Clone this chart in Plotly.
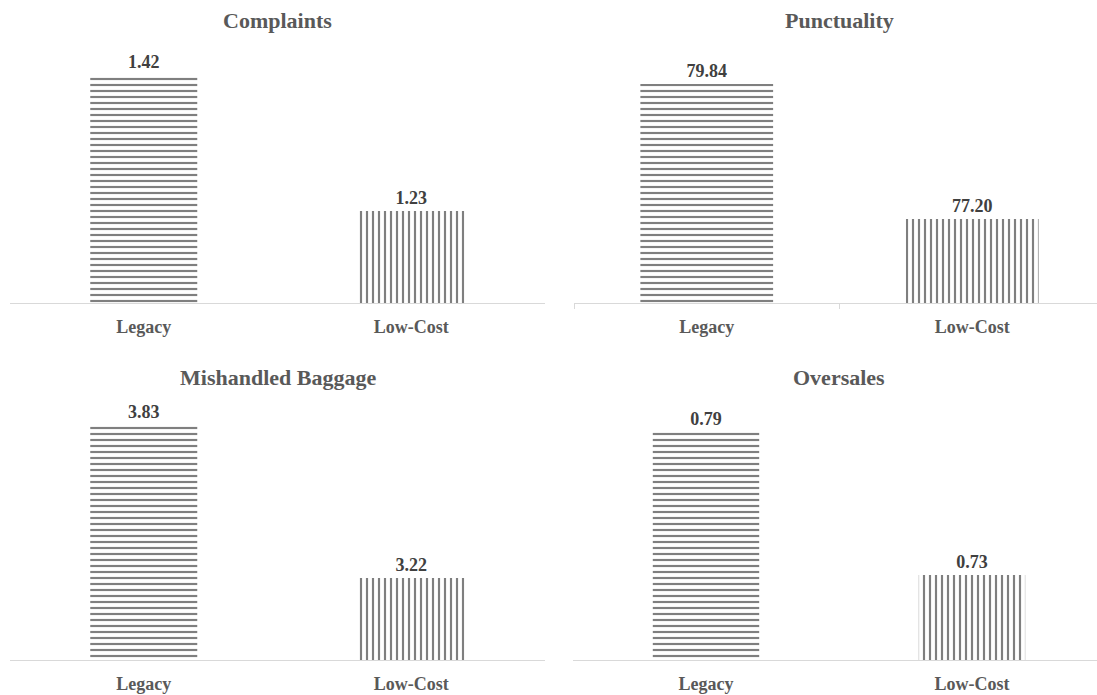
import plotly.graph_objects as go

# Airline service metrics, legacy vs low-cost carriers
categories = ["Legacy", "Low-Cost"]
panel_titles = ["Complaints", "Punctuality", "Mishandled Baggage", "Oversales"]
complaints = [1.42, 1.23]
punctuality = [79.84, 77.20]
mishandled_baggage = [3.83, 3.22]
oversales = [0.79, 0.73]

series = [complaints, punctuality, mishandled_baggage, oversales]

W, H = 1097, 695
FONT = "Liberation Serif"
TITLE_GREY = "#595959"
VALUE_GREY = "#404040"
AXIS_GREY = "#d9d9d9"

# subplot geometry: (x domain, y domain, y range, bar width)
panels = [
    dict(xd=[10 / W, 545 / W], yd=[1 - 303 / H, 1 - 40 / H], yr=[1.1015, 1.4689], bw=0.40, xr=[-0.5, 1.5]),
    dict(xd=[574 / W, 1.0], yd=[1 - 303 / H, 1 - 40 / H], yr=[75.557, 80.70], bw=0.50, xr=[-0.5, 1.47]),
    dict(xd=[10 / W, 545 / W], yd=[1 - 660 / H, 1 - 395 / H], yr=[2.893, 3.950], bw=0.40, xr=[-0.5, 1.5]),
    dict(xd=[573 / W, 1.0], yd=[1 - 660 / H, 1 - 395 / H], yr=[0.6943, 0.8055], bw=0.40, xr=[-0.5, 1.47]),
]
title_y = [20, 20, 377, 377]

fig = go.Figure()
layout = {}
annotations = []

for i, (vals, p) in enumerate(zip(series, panels)):
    n = "" if i == 0 else str(i + 1)
    fig.add_trace(go.Bar(
        x=categories,
        y=vals,
        width=p["bw"],
        xaxis="x" + n,
        yaxis="y" + n,
        marker=dict(
            color="white",
            line=dict(width=0),
            pattern=dict(shape=["-", "|"], fgcolor="black", bgcolor="white",
                         size=6, solidity=0.36, fillmode="overlay"),
        ),
        texttemplate="%{y:.2f}",
        textposition="outside",
        textfont=dict(family=FONT, size=18, color=VALUE_GREY, weight="bold"),
        showlegend=False,
    ))
    xa = dict(
        domain=p["xd"], anchor="y" + n, range=p["xr"], type="category",
        showline=True, linecolor=AXIS_GREY, linewidth=1, showgrid=False,
        zeroline=False, fixedrange=True,
        tickfont=dict(family=FONT, size=18, color=TITLE_GREY, weight="bold"),
        ticklabelstandoff=7,
    )
    if i == 1:
        xa.update(ticks="outside", tickson="boundaries", ticklen=5,
                  tickcolor=AXIS_GREY, tickwidth=1)
    else:
        xa.update(ticks="")
    ya = dict(
        domain=p["yd"], anchor="x" + n, range=p["yr"], showgrid=False,
        showticklabels=False, zeroline=False, showline=False, ticks="",
        fixedrange=True,
    )
    layout["xaxis" + n] = xa
    layout["yaxis" + n] = ya

    cx = ((p["xd"][0] + p["xd"][1]) / 2) if i % 2 == 0 else ((573 + 1105) / 2 / W)
    annotations.append(dict(
        text="<b>%s</b>" % panel_titles[i], x=cx, xref="paper",
        y=1 - title_y[i] / H, yref="paper", xanchor="center", yanchor="middle",
        showarrow=False, font=dict(family=FONT, size=22, color=TITLE_GREY),
    ))

fig.update_layout(
    **layout,
    width=W, height=H,
    margin=dict(l=0, r=0, t=0, b=0),
    paper_bgcolor="white", plot_bgcolor="white",
    annotations=annotations,
    font=dict(family=FONT),
)

fig.write_html("out.html")
